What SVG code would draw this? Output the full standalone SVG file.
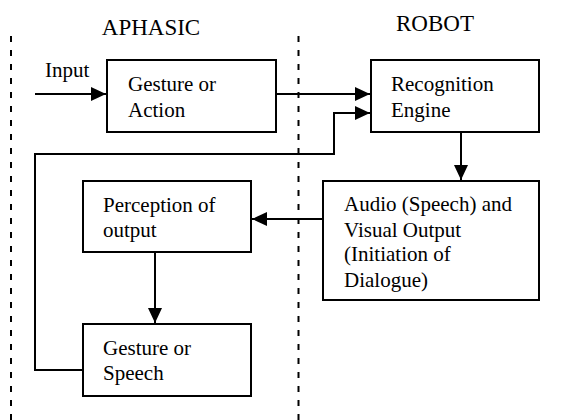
<svg xmlns="http://www.w3.org/2000/svg" width="565" height="420" viewBox="0 0 565 420">
<style>
text{font-family:'Liberation Serif','Times New Roman',Times,'DejaVu Serif',serif;font-size:21px;fill:#000}
.title{font-size:23px}
.box{fill:#fff;stroke:#000;stroke-width:2}
.ln{fill:none;stroke:#000;stroke-width:2}
.dash{fill:none;stroke:#000;stroke-width:2;stroke-dasharray:6 8}
</style>
<defs>
<marker id="ah" markerUnits="userSpaceOnUse" markerWidth="15" markerHeight="14" refX="15" refY="7" orient="auto">
<path d="M0,0 L15,7 L0,14 z" fill="#000"/>
</marker>
</defs>
<rect width="565" height="420" fill="#fff"/>
<g id="lanes">
<line class="dash" x1="11" y1="36" x2="11" y2="420"/>
<line class="dash" x1="298.5" y1="36" x2="298.5" y2="420"/>
<text class="title" x="151" y="35" text-anchor="middle">APHASIC</text>
<text class="title" x="435" y="31" text-anchor="middle">ROBOT</text>
</g>
<g id="connectors">
<line class="ln" x1="35" y1="94" x2="106" y2="94" marker-end="url(#ah)"/>
<text x="45" y="77">Input</text>
<line class="ln" x1="276" y1="94" x2="370" y2="94" marker-end="url(#ah)"/>
<polyline class="ln" points="83,370 35,370 35,154 334,154 334,113 370,113" marker-end="url(#ah)"/>
<line class="ln" x1="461" y1="132" x2="461" y2="180" marker-end="url(#ah)"/>
<line class="ln" x1="322" y1="219" x2="252" y2="219" marker-end="url(#ah)"/>
<line class="ln" x1="155" y1="252" x2="155" y2="323" marker-end="url(#ah)"/>
</g>
<g id="gesture-action">
<rect class="box" x="107" y="60" width="169" height="72"/>
<text x="128" y="91">Gesture or</text>
<text x="128" y="117">Action</text>
</g>
<g id="recognition">
<rect class="box" x="371" y="60" width="168" height="72"/>
<text x="391" y="91">Recognition</text>
<text x="391" y="117">Engine</text>
</g>
<g id="audio-visual">
<rect class="box" x="323" y="181" width="216" height="119"/>
<text x="344" y="211">Audio (Speech) and</text>
<text x="344" y="237">Visual Output</text>
<text x="344" y="261">(Initiation of</text>
<text x="344" y="287">Dialogue)</text>
</g>
<g id="perception">
<rect class="box" x="83" y="181" width="168" height="71"/>
<text x="103" y="212">Perception of</text>
<text x="103" y="237">output</text>
</g>
<g id="gesture-speech">
<rect class="box" x="83" y="324" width="168" height="72"/>
<text x="103" y="355">Gesture or</text>
<text x="103" y="380">Speech</text>
</g>
</svg>
